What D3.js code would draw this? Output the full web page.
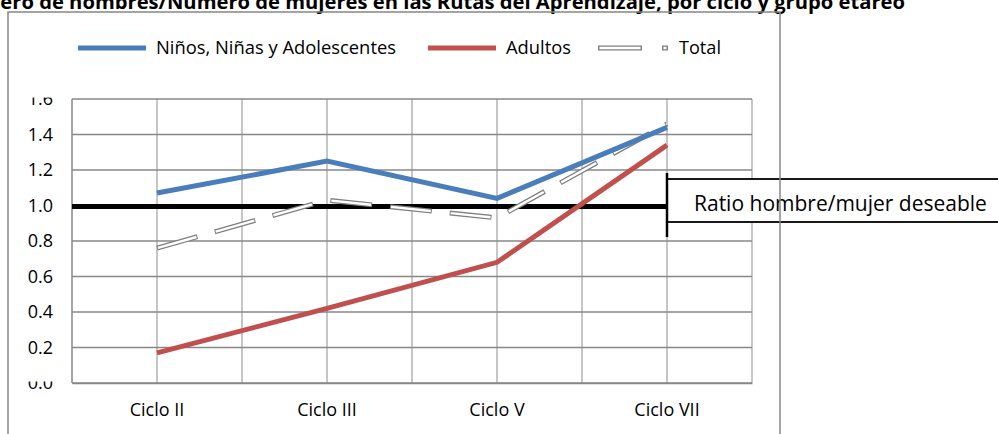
<!DOCTYPE html>
<html><head><meta charset="utf-8">
<script src="https://cdn.jsdelivr.net/npm/d3@7"></script>
<style>body{margin:0;background:#fff;overflow:hidden}svg{display:block}</style>
</head><body>
<svg id="c" width="998" height="434"></svg>
<script>
const categories = ["Ciclo II","Ciclo III","Ciclo V","Ciclo VII"];
const ninos   = [1.07, 1.25, 1.04, 1.44];
const adultos = [0.17, 0.42, 0.68, 1.34];
const total   = [0.76, 1.03, 0.93, 1.46];
const yTicks  = [0.0,0.2,0.4,0.6,0.8,1.0,1.2,1.4,1.6];
const seriesNames = ["Niños, Niñas y Adolescentes","Adultos","Total"];
const ratioValue = 1.0;
const ratioLabel = "Ratio hombre/mujer deseable";
const titleText = "Número de hombres/Número de mujeres en las Rutas del Aprendizaje, por ciclo y grupo etáreo";
const titleVisible = "ero de hombres/Número de mujeres en las Rutas del Aprendizaje, por ciclo y grupo etáreo";

const FONT = "'Open Sans', sans-serif";
const svg = d3.select("#c");
const L=72, R=752, T=99, B=383;
const x = d3.scaleBand().domain(categories).range([L,R]);
const y = d3.scaleLinear().domain([0,1.6]).range([B,T]);
const cx = c => x(c)+x.bandwidth()/2;

function fit(sel, target, base){
  sel.style("font-size", base+"px");
  const w = sel.node().getComputedTextLength();
  sel.style("font-size", (base*target/w)+"px");
  return sel;
}

// title
const tmp = svg.append("text").attr("font-family",FONT).attr("font-weight","bold").text(titleVisible);
fit(tmp, 905, 16);
const tfs = tmp.style("font-size"); tmp.remove();
svg.append("text").attr("x",905).attr("y",9).attr("text-anchor","end")
  .attr("font-family",FONT).attr("font-weight","bold").style("font-size",tfs).attr("fill","#000").text(titleText);

// vertical gridlines (band edges and centers)
const vx = [];
categories.forEach(c=>{ vx.push(x(c)); vx.push(cx(c)); });
vx.push(R);
svg.append("g").selectAll("line").data(vx.slice(1)).join("line")
  .attr("x1",d=>d).attr("x2",d=>d).attr("y1",T).attr("y2",B)
  .attr("stroke","#b3b3b3").attr("stroke-width",1.5);
// horizontal gridlines
svg.append("g").selectAll("line").data(yTicks).join("line")
  .attr("x1",L).attr("x2",R).attr("y1",d=>y(d)).attr("y2",d=>y(d))
  .attr("stroke","#878787").attr("stroke-width",1.5);
svg.append("line").attr("x1",L).attr("x2",L).attr("y1",T).attr("y2",B).attr("stroke","#878787").attr("stroke-width",1.5);

// y labels
const defs = svg.append("defs");
defs.append("clipPath").attr("id","clipTop").append("rect").attr("x",-72).attr("y",97.5).attr("width",72).attr("height",20);
defs.append("clipPath").attr("id","clipBot").append("rect").attr("x",-72).attr("y",381.5).attr("width",72).attr("height",20);
const yAxis = d3.axisLeft(y).tickValues(yTicks).tickFormat(d3.format(".1f")).tickSize(0).tickPadding(19);
const ya = svg.append("g").attr("transform",`translate(${L},0)`).call(yAxis);
ya.select(".domain").remove();
ya.selectAll("text").attr("font-family",FONT).style("font-size","18px").attr("fill","#000");
function clipTick(val, id){
  ya.selectAll(".tick").filter(d=>Math.abs(d-val)<1e-9).each(function(){
    const t=d3.select(this); const g=t.attr("transform");
    t.attr("transform",null).attr("clip-path",`url(#${id})`);
    t.select("text").attr("transform",g);
  });
}
clipTick(1.6,"clipTop");
clipTick(0,"clipBot");

// x axis
const xAxis = d3.axisBottom(x).tickSize(0).tickPadding(20);
const xa = svg.append("g").attr("transform",`translate(0,${B})`).call(xAxis);
xa.select(".domain").attr("stroke","#878787").attr("stroke-width",1.5);
xa.selectAll("text").attr("font-family",FONT).style("font-size","18px").attr("fill","#000");

// ratio line
svg.append("line").attr("x1",L).attr("x2",cx("Ciclo VII")).attr("y1",y(ratioValue)+1).attr("y2",y(ratioValue)+1)
  .attr("stroke","#000").attr("stroke-width",5);

const line = d3.line().x((d,i)=>cx(categories[i])).y(d=>y(d));
// total (double dashed)
svg.append("path").attr("d",line(total)).attr("fill","none").attr("stroke","#7f7f7f")
  .attr("stroke-width",5).attr("stroke-dasharray","42,18").attr("stroke-linejoin","round");
svg.append("path").attr("d",line(total)).attr("fill","none").attr("stroke","#fff")
  .attr("stroke-width",2.4).attr("stroke-dasharray","40,20").attr("stroke-dashoffset",-1);
// adultos
svg.append("path").attr("d",line(adultos)).attr("fill","none").attr("stroke","#c0504d").attr("stroke-width",5);
// ninos
svg.append("path").attr("d",line(ninos)).attr("fill","none").attr("stroke","#4a7ebb").attr("stroke-width",5);

// ratio box
const vX = cx("Ciclo VII");
svg.append("rect").attr("x",vX).attr("y",179).attr("width",400).attr("height",43)
  .attr("fill","#fff").attr("stroke","#000").attr("stroke-width",1.8);
svg.append("line").attr("x1",vX).attr("x2",vX).attr("y1",173).attr("y2",237).attr("stroke","#000").attr("stroke-width",2.5);
const rt = svg.append("text").attr("x",694).attr("y",211).attr("font-family",FONT).attr("fill","#000").text(ratioLabel);
fit(rt, 293, 20);

// legend
const lg = svg.append("g");
lg.append("line").attr("x1",78).attr("x2",146).attr("y1",48).attr("y2",48).attr("stroke","#4a7ebb").attr("stroke-width",5);
fit(lg.append("text").attr("x",156).attr("y",54).attr("font-family",FONT).attr("fill","#000").text(seriesNames[0]), 240, 16);
lg.append("line").attr("x1",428).attr("x2",496).attr("y1",48).attr("y2",48).attr("stroke","#c0504d").attr("stroke-width",5);
fit(lg.append("text").attr("x",506).attr("y",54).attr("font-family",FONT).attr("fill","#000").text(seriesNames[1]), 65, 16);
lg.append("line").attr("x1",598).attr("x2",668).attr("y1",48).attr("y2",48).attr("stroke","#7f7f7f").attr("stroke-width",5).attr("stroke-dasharray","44,20,6,20");
lg.append("line").attr("x1",599.5).attr("x2",666.5).attr("y1",48).attr("y2",48).attr("stroke","#fff").attr("stroke-width",2.4).attr("stroke-dasharray","41,23,3,20");
fit(lg.append("text").attr("x",679).attr("y",54).attr("font-family",FONT).attr("fill","#000").text(seriesNames[2]), 42, 16);

// outer border
svg.append("path").attr("d","M8,440V12H780V440").attr("fill","none").attr("stroke","#878787").attr("stroke-width",1.5);
</script>
</body></html>
